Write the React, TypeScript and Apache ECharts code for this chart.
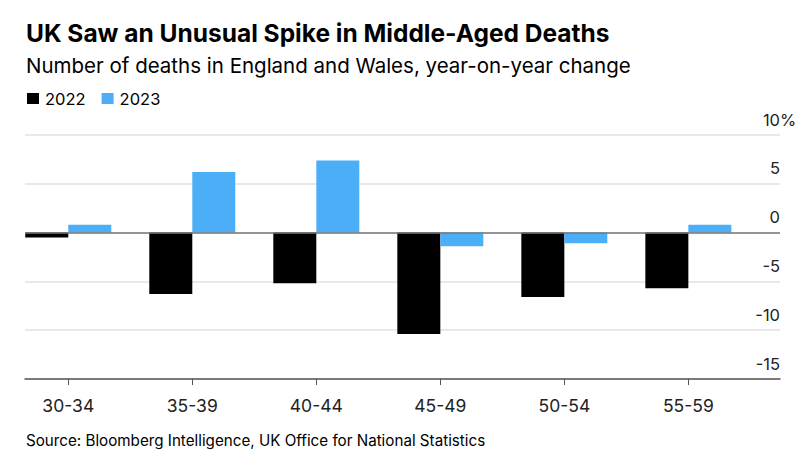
import React, { useEffect, useRef } from "react";
import * as echarts from "echarts";

const categories = ["30-34", "35-39", "40-44", "45-49", "50-54", "55-59"];
const values2022 = [-0.5, -6.3, -5.2, -10.4, -6.6, -5.7];
const values2023 = [0.8, 6.2, 7.4, -1.4, -1.1, 0.8];
const yTicks = [-15, -10, -5, 0, 5, 10];

const FONT = "Inter, 'Liberation Sans', Arial, sans-serif";

export default function App() {
  const ref = useRef<HTMLDivElement>(null);
  useEffect(() => {
    document.body.style.margin = "0";
    if (!ref.current) return;
    const chart = echarts.init(ref.current, null, { renderer: "svg" });
    const idx = categories.map((_, i) => i);
    chart.setOption({
      animation: false,
      backgroundColor: "#ffffff",
      textStyle: { fontFamily: FONT },
      title: [
        {
          text: "UK Saw an Unusual Spike in Middle-Aged Deaths",
          left: 26,
          top: 20,
          padding: 0,
          textStyle: { fontFamily: FONT, fontSize: 24.5, fontWeight: "bold", color: "#000" },
        },
        {
          text: "Number of deaths in England and Wales, year-on-year change",
          left: 26,
          top: 55,
          padding: 0,
          textStyle: { fontFamily: FONT, fontSize: 20.5, fontWeight: "normal", color: "#000" },
        },
        {
          text: "Source: Bloomberg Intelligence, UK Office for National Statistics",
          left: 26,
          top: 433,
          padding: 0,
          textStyle: { fontFamily: FONT, fontSize: 15.2, fontWeight: "normal", color: "#000" },
        },
      ],
      legend: {
        left: 27,
        top: 90,
        padding: 0,
        icon: "rect",
        itemWidth: 12,
        itemHeight: 11,
        itemGap: 16,
        textStyle: { fontFamily: FONT, fontSize: 16.5, color: "#000", padding: [0, 0, 0, 1] },
        data: ["2022", "2023"],
      },
      grid: { left: 25, right: 30, top: 135, bottom: 73, containLabel: false },
      xAxis: {
        type: "value",
        min: -0.349,
        max: 5.739,
        splitLine: { show: false },
        axisLine: { show: true, onZero: false, lineStyle: { color: "#555", width: 1.5 } },
        axisTick: {
          show: true,
          length: 6,
          customValues: idx,
          lineStyle: { color: "#555", width: 1 },
        },
        axisLabel: {
          customValues: idx,
          margin: 17,
          fontFamily: FONT,
          fontSize: 17.5,
          color: "#222",
          formatter: (v: number) => categories[Math.round(v)] ?? "",
        },
      },
      yAxis: {
        type: "value",
        position: "right",
        min: -15,
        max: 10,
        interval: 5,
        axisLine: { show: false },
        axisTick: { show: false },
        splitLine: { show: true, lineStyle: { color: "#e2e2e2", width: 1.5 } },
        axisLabel: {
          inside: true,
          margin: -16,
          align: "right",
          verticalAlign: "bottom",
          padding: [0, 0, 7, 0],
          fontFamily: FONT,
          fontSize: 16.5,
          color: "#222",
          formatter: (v: number) => {
            const suffix = v === yTicks[yTicks.length - 1] ? "%" : "";
            return v + "{p|" + suffix + "}";
          },
          rich: {
            p: { width: 16, fontSize: 16.5, fontFamily: FONT, color: "#222", align: "left" },
          },
        },
      },
      series: [
        {
          name: "2022",
          type: "bar",
          barWidth: 43,
          barGap: "0%",
          itemStyle: { color: "#000000" },
          data: values2022.map((v, i) => [i, v]),
          markLine: {
            silent: true,
            symbol: "none",
            label: { show: false },
            lineStyle: { color: "#777", width: 1.5, type: "solid" },
            data: [{ yAxis: 0 }],
          },
        },
        {
          name: "2023",
          type: "bar",
          barWidth: 43,
          barGap: "0%",
          itemStyle: { color: "#4daef8" },
          data: values2023.map((v, i) => [i, v]),
        },
      ],
    });
    return () => chart.dispose();
  }, []);
  return <div ref={ref} style={{ width: 810, height: 452 }} />;
}
